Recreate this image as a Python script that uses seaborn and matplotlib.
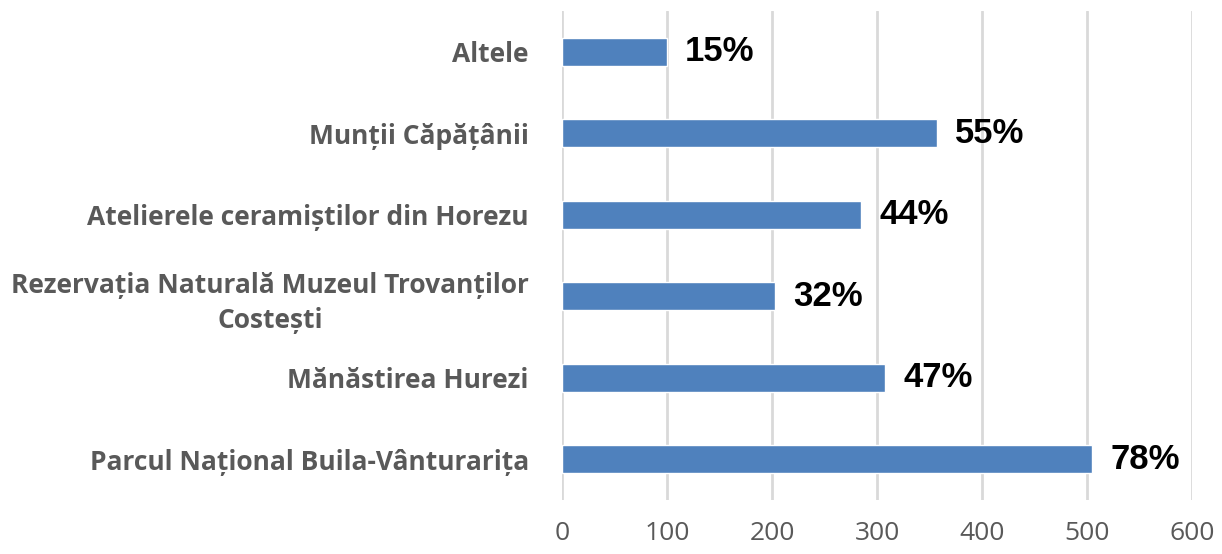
import numpy as np
import matplotlib
matplotlib.use("Agg")
import matplotlib.pyplot as plt
import seaborn as sns

# Data
categories = [
    "Altele",
    "Munții Căpățânii",
    "Atelierele ceramiștilor din Horezu",
    "Rezervația Naturală Muzeul Trovanților\nCostești",
    "Mănăstirea Hurezi",
    "Parcul Național Buila-Vânturarița",
]
values = [100, 357, 285, 203, 308, 505]
percent_labels = ["15%", "55%", "44%", "32%", "47%", "78%"]
x_ticks = [0, 100, 200, 300, 400, 500, 600]

BAR_COLOR = "#4f81bd"
GRID_COLOR = "#d9d9d9"
TEXT_GRAY = "#595959"

sns.set_theme(style="white")
plt.rcParams["font.family"] = ["Open Sans", "DejaVu Sans"]

fig = plt.figure(figsize=(12.22, 5.54), dpi=100)
ax = fig.add_axes([0.46, 0.0975, 0.9755 - 0.46, 0.98 - 0.0975])

sns.barplot(x=values, y=categories, orient="h", color=BAR_COLOR,
            width=0.34, saturation=1, ax=ax, zorder=3)

ax.set_xlim(0, 600)
ax.set_xticks(x_ticks)
ax.xaxis.grid(True, color=GRID_COLOR, linewidth=2, zorder=0)
ax.set_axisbelow(True)
for s in ax.spines.values():
    s.set_visible(False)

ax.tick_params(axis="x", length=5, width=2, color=GRID_COLOR,
               labelsize=19, labelcolor=TEXT_GRAY, pad=10)
ax.tick_params(axis="y", length=0, labelsize=19, labelcolor=TEXT_GRAY, pad=24)
for lab in ax.get_yticklabels():
    lab.set_fontweight("bold")
    lab.set_multialignment("center")
    lab.set_linespacing(1.35)
ax.set_xlabel("")
ax.set_ylabel("")

# percentage labels to the right of each bar
ax.bar_label(ax.containers[0], labels=percent_labels, padding=13,
             fontsize=25, fontweight="bold", color="black",
             family="Liberation Sans")

fig.savefig("out.png", dpi=100)
